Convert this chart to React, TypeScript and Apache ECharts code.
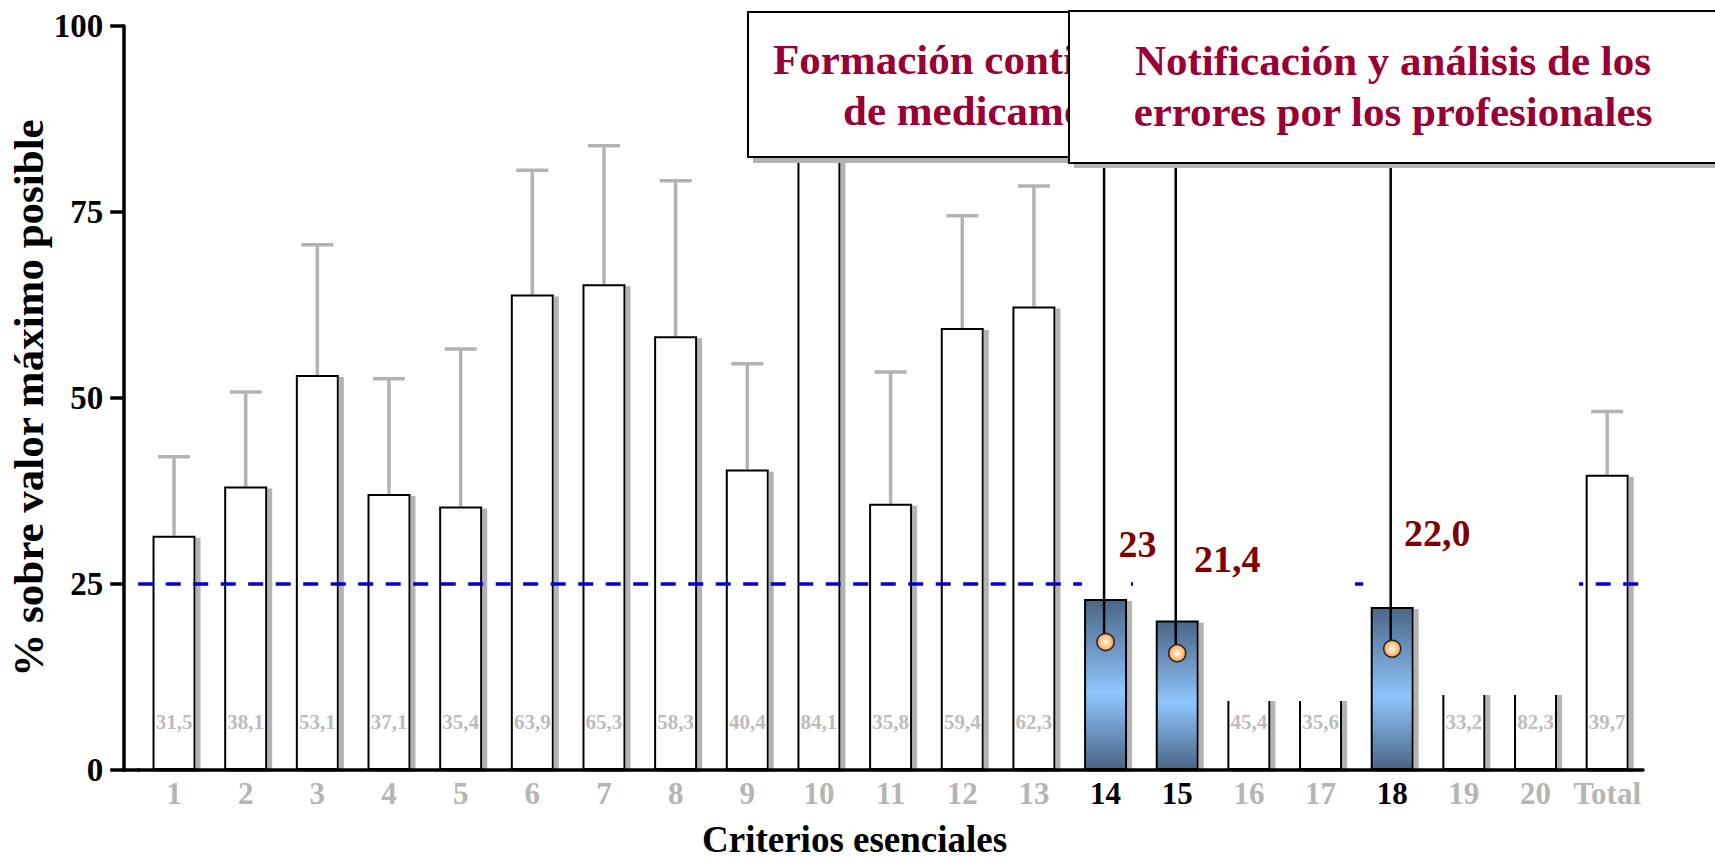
import React, { useEffect, useRef } from 'react';
import * as echarts from 'echarts';

const FONT = "'Liberation Serif', 'Times New Roman', serif";

const categories = ['1', '2', '3', '4', '5', '6', '7', '8', '9', '10', '11', '12', '13', '14', '15', '16', '17', '18', '19', '20', 'Total'];
const highlightedCategories = ['14', '15', '18'];

// white bars (value shown inside, grey)
const baseValues = [31.5, 38.1, 53.1, 37.1, 35.4, 63.9, 65.3, 58.3, 40.4, 84.1, 35.8, 59.4, 62.3, null, null, 45.4, 35.6, null, 33.2, 82.3, 39.7];
// upper end of the grey error bars (null = not visible)
const errorUpper = [42.1, 50.8, 70.6, 52.6, 56.6, 80.6, 83.9, 79.2, 54.6, null, 53.5, 74.5, 78.5, null, null, null, null, null, null, null, 48.2];
// highlighted (blue) bars
const highlightValues = [null, null, null, null, null, null, null, null, null, null, null, null, null, 23.0, 20.1, null, null, 21.9, null, null, null];
const highlightLabels = ['', '', '', '', '', '', '', '', '', '', '', '', '', '23', '21,4', '', '', '22,0', '', '', ''];
const highlightLabelOffsets = [null, null, null, null, null, null, null, null, null, null, null, null, null, [32, -36], [50, -42], null, null, [45, -55], null, null, null];
// callout anchor points (orange circles)
const markerIndex = [13, 14, 17];
const markerValues = [17.2, 15.7, 16.3];
const thresholdValue = 25;
const yMin = 0;
const yMax = 100;
const yInterval = 25;

const box1Lines = ['Formación continuada', 'de medicamentos'];
const box2Lines = ['Notificación y análisis de los', 'errores por los profesionales'];

export default function App() {
  const ref = useRef<HTMLDivElement>(null);

  useEffect(() => {
    if (!ref.current) return;
    const chart = echarts.init(ref.current, undefined, { renderer: 'svg' });

    const xData = categories.map((c) => ({
      value: c,
      textStyle: { color: highlightedCategories.includes(c) ? '#000000' : '#b5b5b5' },
    }));

    const barGradient = new echarts.graphic.LinearGradient(0, 0, 0, 1, [
      { offset: 0, color: '#4a6686' },
      { offset: 0.55, color: '#8fc5fd' },
      { offset: 1, color: '#4a6686' },
    ]);
    const circleGradient = new echarts.graphic.RadialGradient(0.5, 0.5, 0.5, [
      { offset: 0, color: '#fff6ec' },
      { offset: 0.5, color: '#ffd3a6' },
      { offset: 1, color: '#ff9a3c' },
    ]);

    const markerData = markerIndex.map((i, k) => [i, markerValues[k]]);
    const errorData = categories.map((_, i) => [i, baseValues[i], errorUpper[i]]);

    const textStyle = (size: number, color: string) => ({
      fontFamily: FONT,
      fontWeight: 'bold',
      fontSize: size,
      fill: color,
    });

    const option: any = {
      animation: false,
      backgroundColor: '#ffffff',
      grid: { left: 138.2, right: 72, top: 26, bottom: 89, containLabel: false, outerBoundsMode: 'none' },
      xAxis: {
        type: 'category',
        data: xData,
        boundaryGap: true,
        axisLine: { show: true, lineStyle: { color: '#000', width: 3.5 } },
        axisTick: { show: false },
        axisLabel: { fontFamily: FONT, fontWeight: 'bold', fontSize: 31, margin: 8, interval: 0 },
        name: 'Criterios esenciales',
        nameLocation: 'middle',
        nameGap: 51,
        nameMoveOverlap: false,
        nameTextStyle: { fontFamily: FONT, fontWeight: 'bold', fontSize: 37, color: '#000', padding: [0, 72, 0, 0] },
        z: 8,
      },
      yAxis: {
        type: 'value',
        min: yMin,
        max: yMax,
        interval: yInterval,
        offset: 14,
        axisLine: { show: true, lineStyle: { color: '#000', width: 3.5 } },
        axisTick: { show: true, inside: false, length: 14, lineStyle: { color: '#000', width: 3.5 } },
        axisLabel: { fontFamily: FONT, fontWeight: 'bold', fontSize: 33, color: '#000', margin: 21 },
        splitLine: { show: false },
        name: '% sobre valor máximo posible',
        nameLocation: 'middle',
        nameGap: 74,
        nameMoveOverlap: false,
        nameTextStyle: { fontFamily: FONT, fontWeight: 'bold', fontSize: 43, color: '#000' },
        z: 8,
      },
      series: [
        {
          name: 'error',
          type: 'custom',
          z: 0,
          silent: true,
          data: errorData,
          renderItem: (params: any, api: any) => {
            const upper = api.value(2);
            const base = api.value(1);
            if (upper == null || isNaN(upper) || base == null || isNaN(base)) return null;
            const p0 = api.coord([api.value(0), base]);
            const p1 = api.coord([api.value(0), upper]);
            const style = { stroke: '#b3b3b3', lineWidth: 3.5 };
            return {
              type: 'group',
              children: [
                { type: 'line', shape: { x1: p0[0], y1: p0[1], x2: p1[0], y2: p1[1] }, style },
                { type: 'line', shape: { x1: p1[0] - 16, y1: p1[1], x2: p1[0] + 16, y2: p1[1] }, style },
              ],
            };
          },
        },
        {
          name: 'base',
          type: 'bar',
          z: 1,
          barWidth: 43,
          barGap: '-100%',
          data: baseValues,
          itemStyle: {
            color: '#ffffff',
            borderColor: '#000000',
            borderWidth: 2,
            shadowColor: '#b3b3b3',
            shadowOffsetX: 5,
            shadowOffsetY: 2,
            shadowBlur: 0,
          },
          label: {
            show: true,
            position: 'insideBottom',
            distance: 38,
            fontFamily: FONT,
            fontWeight: 'bold',
            fontSize: 21,
            color: '#bdbdbd',
            formatter: (p: any) => (p.value == null ? '' : String(p.value.toFixed ? p.value.toFixed(1) : p.value).replace('.', ',')),
          },
          markLine: {
            silent: true,
            z: 2,
            symbol: ['none', 'none'],
            label: { show: false },
            lineStyle: { color: '#0000cc', width: 3.5, type: [15, 12.5] },
            data: [{ yAxis: thresholdValue }],
          },
        },
        {
          name: 'highlight',
          type: 'bar',
          z: 5,
          barWidth: 43,
          barGap: '-100%',
          data: highlightValues.map((v, i) =>
            v == null
              ? null
              : {
                  value: v,
                  label: { offset: highlightLabelOffsets[i] },
                }
          ),
          itemStyle: {
            color: barGradient,
            borderColor: '#000000',
            borderWidth: 2,
            shadowColor: '#b3b3b3',
            shadowOffsetX: 5,
            shadowOffsetY: 2,
            shadowBlur: 0,
          },
          label: {
            show: true,
            position: 'top',
            distance: 0,
            fontFamily: FONT,
            fontWeight: 'bold',
            fontSize: 38,
            color: '#800000',
            formatter: (p: any) => highlightLabels[p.dataIndex],
          },
        },
        {
          name: 'callout',
          type: 'custom',
          z: 6,
          silent: true,
          data: markerData,
          renderItem: (params: any, api: any) => {
            const p = api.coord([api.value(0), api.value(1)]);
            const top = api.coord([api.value(0), 85]);
            return {
              type: 'line',
              shape: { x1: p[0] - 1.5, y1: p[1], x2: p[0] - 1.5, y2: top[1] },
              style: { stroke: '#000', lineWidth: 2.5 },
            };
          },
        },
        {
          name: 'marker',
          type: 'scatter',
          z: 7,
          silent: true,
          symbol: 'circle',
          symbolSize: 17,
          data: markerData,
          itemStyle: { color: circleGradient, borderColor: '#222', borderWidth: 1.5, opacity: 1 },
        },
      ],
      graphic: [
        { type: 'line', z: 8, silent: true, shape: { x1: 122, y1: 770, x2: 140, y2: 770 }, style: { stroke: '#000', lineWidth: 3.5 } },
        // white masks present in the original slide
        { type: 'rect', z: 3, silent: true, shape: { x: 1082, y: 165, width: 49, height: 432 }, style: { fill: '#fff' } },
        { type: 'rect', z: 3, silent: true, shape: { x: 1133, y: 165, width: 222, height: 536 }, style: { fill: '#fff' } },
        { type: 'rect', z: 3, silent: true, shape: { x: 1371, y: 165, width: 49, height: 440 }, style: { fill: '#fff' } },
        { type: 'rect', z: 3, silent: true, shape: { x: 1422, y: 165, width: 157, height: 530 }, style: { fill: '#fff' } },
        // box 1 (partly hidden behind box 2)
        { type: 'rect', z: 10, silent: true, shape: { x: 753, y: 18, width: 500, height: 145 }, style: { fill: '#b3b3b3' } },
        { type: 'rect', z: 11, silent: true, shape: { x: 748, y: 12, width: 500, height: 145 }, style: { fill: '#fff', stroke: '#000', lineWidth: 2 } },
        { type: 'text', z: 12, silent: true, x: 773, y: 59, style: { ...textStyle(43, '#990033'), text: box1Lines[0], width: 322, overflow: 'truncate', ellipsis: '', align: 'left', verticalAlign: 'middle', textAlign: 'left', textVerticalAlign: 'middle' } },
        { type: 'text', z: 12, silent: true, x: 843, y: 110, style: { ...textStyle(43, '#990033'), text: box1Lines[1], width: 245, overflow: 'truncate', ellipsis: '', align: 'left', verticalAlign: 'middle', textAlign: 'left', textVerticalAlign: 'middle' } },
        // box 2
        { type: 'rect', z: 13, silent: true, shape: { x: 1074, y: 16, width: 700, height: 152 }, style: { fill: '#b3b3b3' } },
        { type: 'rect', z: 14, silent: true, shape: { x: 1069, y: 11, width: 700, height: 152 }, style: { fill: '#fff', stroke: '#000', lineWidth: 2 } },
        { type: 'text', z: 15, silent: true, x: 1393, y: 60, style: { ...textStyle(43, '#990033'), text: box2Lines[0], align: 'center', verticalAlign: 'middle', textAlign: 'center', textVerticalAlign: 'middle' } },
        { type: 'text', z: 15, silent: true, x: 1393, y: 111, style: { ...textStyle(43, '#990033'), text: box2Lines[1], align: 'center', verticalAlign: 'middle', textAlign: 'center', textVerticalAlign: 'middle' } },
      ],
    };

    chart.setOption(option);
    return () => chart.dispose();
  }, []);

  return <div ref={ref} style={{ position: 'fixed', left: 0, top: 0, width: 1715, height: 859, background: '#fff' }} />;
}
